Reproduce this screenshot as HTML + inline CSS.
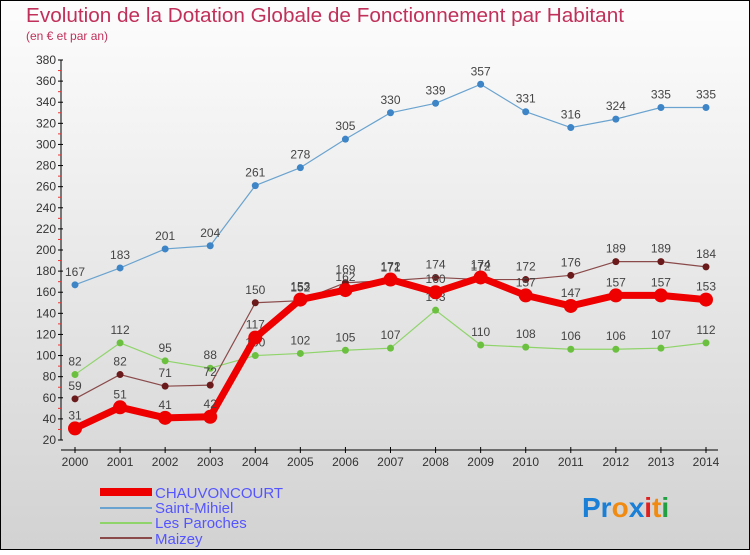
<!DOCTYPE html>
<html><head><meta charset="utf-8"><style>
body{margin:0}
#c{width:750px;height:550px;position:relative;font-family:"Liberation Sans",sans-serif}
</style></head><body>
<div id="c">
<svg id="s" width="750" height="550" xmlns="http://www.w3.org/2000/svg" font-family="Liberation Sans, sans-serif">
<defs><linearGradient id="bg" x1="0" y1="0" x2="0" y2="1"><stop offset="0" stop-color="#fdfdfd"/><stop offset="1" stop-color="#d2d2d2"/></linearGradient></defs>
<rect x="0.5" y="0.5" width="749" height="549" fill="url(#bg)" stroke="#000"/>
<text x="26" y="22" font-size="20" fill="#c0305a" textLength="598" lengthAdjust="spacingAndGlyphs">Evolution de la Dotation Globale de Fonctionnement par Habitant</text>
<text x="26" y="40" font-size="12" fill="#c0305a">(en € et par an)</text>
<g id="axes"></g><g id="series"></g>
<g>
<rect x="100" y="488" width="52" height="8" fill="#e00"/>
<text x="155" y="498" font-size="15" fill="#5555ff">CHAUVONCOURT</text>
<line x1="100" y1="508" x2="152" y2="508" stroke="#6aa3cf" stroke-width="2"/>
<text x="155" y="513" font-size="15" fill="#5555ff">Saint-Mihiel</text>
<line x1="100" y1="523" x2="152" y2="523" stroke="#8fd46a" stroke-width="2"/>
<text x="155" y="528" font-size="15" fill="#5555ff">Les Paroches</text>
<line x1="100" y1="538" x2="152" y2="538" stroke="#8a4a4a" stroke-width="2"/>
<text x="155" y="544" font-size="15" fill="#5555ff">Maizey</text>
</g>
<g font-size="28" font-weight="bold">
<text x="582" y="517"><tspan fill="#1a7fd6">Pr</tspan><tspan fill="#f08a10">o</tspan><tspan fill="#1a7fd6">x</tspan><tspan fill="#e02020">i</tspan><tspan fill="#f08a10">t</tspan><tspan fill="#20a040">i</tspan></text>
</g>
</svg>
</div>
<script>
const years=[2000,2001,2002,2003,2004,2005,2006,2007,2008,2009,2010,2011,2012,2013,2014];
const yTicks=[20,40,60,80,100,120,140,160,180,200,220,240,260,280,300,320,340,360,380];
const chauvoncourt=[31,51,41,42,117,153,162,172,160,174,157,147,157,157,153];
const saintMihiel=[167,183,201,204,261,278,305,330,339,357,331,316,324,335,335];
const lesParoches=[82,112,95,88,100,102,105,107,143,110,108,106,106,107,112];
const maizey=[59,82,71,72,150,152,169,171,174,172,172,176,189,189,184];
const NS="http://www.w3.org/2000/svg";
const x0=75,x1=706,yTop=60,yBot=440,vMin=20,vMax=380;
function xs(i){return x0+(x1-x0)*i/(years.length-1);}
function ys(v){return yBot-(v-vMin)*(yBot-yTop)/(vMax-vMin);}
function mk(tag,attrs,parent){const e=document.createElementNS(NS,tag);for(const k in attrs)e.setAttribute(k,attrs[k]);parent.appendChild(e);return e;}
const ax=document.getElementById('axes');
let yl=mk('line',{x1:61,y1:yTop,x2:61,y2:yBot,stroke:'#000'},ax);


let xl=mk('line',{x1:61,y1:450,x2:718,y2:450,stroke:'#000'},ax);


yTicks.forEach((t,i)=>{
  const y=ys(t);
  mk('line',{x1:58,y1:y,x2:63,y2:y,stroke:'#000'},ax);
  if(i<yTicks.length-1){mk('line',{x1:58,y1:ys(t+10),x2:61,y2:ys(t+10),stroke:'#e33'},ax);}
  const tx=mk('text',{x:56,y:y+4,'font-size':12,'text-anchor':'end',fill:'#333'},ax);
  tx.textContent=t;
  
  
});
years.forEach((yr,i)=>{
  const x=xs(i);
  mk('line',{x1:x,y1:447,x2:x,y2:453,stroke:'#000'},ax);
  const tx=mk('text',{x:x,y:466,'font-size':12,'text-anchor':'middle',fill:'#333'},ax);
  tx.textContent=yr;
  
  
});
const sg=document.getElementById('series');
function series(data,name,color,dot,w,r){
  const g=mk('g',{},sg);
  
  
  const pts=data.map((v,i)=>xs(i)+','+ys(v)).join(' ');
  mk('polyline',{points:pts,fill:'none',stroke:color,'stroke-width':w,'stroke-linejoin':'round'},g);
  data.forEach((v,i)=>{
    const c=mk('circle',{cx:xs(i),cy:ys(v),r:r,fill:dot},g);
    
    
    const t=mk('text',{x:xs(i),y:ys(v)-9,'font-size':12,'text-anchor':'middle',fill:'#444'},g);
    t.textContent=v;
  });
}
series(saintMihiel,'saint-mihiel','#6aa3cf','#3d85c6',1.2,3.5);
series(lesParoches,'les-paroches','#8fd46a','#6cc040',1.2,3.5);
series(maizey,'maizey','#8a4a4a','#6a1a1a',1.2,3.5);
series(chauvoncourt,'chauvoncourt','#e00','#e00',7,7);
</script>
</body></html>
